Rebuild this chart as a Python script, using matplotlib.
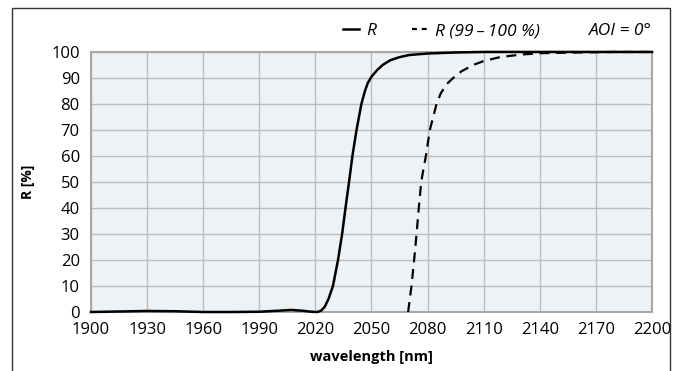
import matplotlib.pyplot as plt
from matplotlib.lines import Line2D
from matplotlib.patches import Rectangle

plt.rcParams['font.family'] = ['Open Sans', 'DejaVu Sans']

# solid curve R
wl_r = [1900, 1915, 1930, 1945, 1960, 1975, 1990, 2000, 2007, 2013, 2018, 2021,
        2023, 2025, 2027, 2029.4, 2032.1, 2034.3, 2036.1, 2038, 2039.8, 2042,
        2044.6, 2046.5, 2048, 2050, 2053, 2056, 2060, 2065, 2070, 2080, 2095,
        2110, 2200]
r_vals = [0, 0.2, 0.4, 0.3, 0, 0, 0.1, 0.5, 0.8, 0.5, 0.1, 0,
          0.5, 2, 5, 10, 20, 30, 40, 50, 60, 70,
          80, 85, 88, 90.5, 93, 95, 96.8, 98, 98.8, 99.4, 99.8,
          100, 100]

# dashed curve R (99 - 100 %)
wl_z = [2069.6, 2071.4, 2072.8, 2074.1, 2075.3, 2076.6, 2077.8, 2079.1, 2081.2,
        2084.8, 2087, 2090, 2093.7, 2098, 2104.4, 2110, 2118.7, 2130, 2140,
        2160, 2180, 2200]
z_vals = [0, 10, 20, 30, 40, 50, 55, 60, 70,
          80, 84, 87.5, 90, 92.5, 95, 96.5, 98, 99, 99.5,
          99.8, 100, 100]

xticks = list(range(1900, 2201, 30))
yticks = list(range(0, 101, 10))

fig = plt.figure(figsize=(6.8, 3.71), dpi=100)
ax = fig.add_axes([0.1338, 0.159, 0.825, 0.701])

ax.set_facecolor('#eef2f5')
ax.plot(wl_r, r_vals, color='black', lw=1.8, clip_on=False, zorder=3)
ax.plot(wl_z, z_vals, color='black', lw=1.6, ls=(0, (4.5, 3)), clip_on=False, zorder=3)

ax.set_xlim(1900, 2200)
ax.set_ylim(0, 100)
ax.set_xticks(xticks)
ax.set_yticks(yticks)
ax.tick_params(length=0, labelsize=12)
ax.tick_params(axis='x', pad=7)
ax.tick_params(axis='y', pad=8)
ax.grid(True, color='#bdbdbd', lw=1)
ax.set_axisbelow(True)
for s in ax.spines.values():
    s.set_color('#a8a8a8')
    s.set_linewidth(1.5)

ax.set_xlabel('wavelength [nm]', fontsize=10.5, fontweight='bold', labelpad=9)
ax.set_ylabel('R [%]', fontsize=10, fontweight='bold', labelpad=12)

# legend row above the plot
ytop = 1 - 31 / 371
handles = [Line2D([], [], color='black', lw=1.8),
           Line2D([], [], color='black', lw=1.6, ls=(0, (2.2, 2.2)))]
ax.legend(handles, ['R', 'R (99\u2009–\u2009100 %)'], ncol=2, frameon=False,
          loc='center left', bbox_to_anchor=(343 / 680, ytop),
          bbox_transform=fig.transFigure, borderpad=0, borderaxespad=0,
          handlelength=0.92, handletextpad=0.4, columnspacing=2.1,
          prop={'size': 12.5, 'style': 'italic'})
fig.text(652 / 680, ytop, 'AOI = 0°', ha='right', va='center',
         fontsize=12.5, style='italic')

fig.patches.append(Rectangle((12 / 680, -0.1), 658 / 680, 1.0 - 8 / 371 + 0.1,
                             transform=fig.transFigure, fill=False,
                             edgecolor='#333333', lw=1))

fig.savefig('out.png', dpi=100)
